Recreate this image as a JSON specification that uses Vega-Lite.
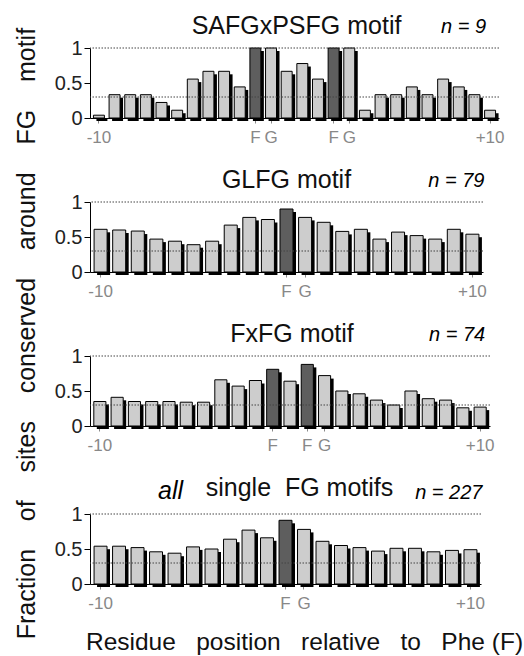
{
  "$schema": "https://vega.github.io/schema/vega-lite/v6.json",
  "background": "white",
  "padding": {"left": 15, "top": 13, "right": 2, "bottom": 2},
  "config": {
    "font": "Liberation Sans",
    "view": {"stroke": null},
    "title": {"fontSize": 25, "fontWeight": "normal", "color": "#111", "frame": "group", "dy": 26},
    "axisY": {"values": [0, 0.1, 0.2, 0.3, 0.4, 0.5, 0.6, 0.7, 0.8, 0.9, 1], "labelExpr": "datum.value == 0 ? '0' : datum.value == 0.5 ? '0.5' : datum.value == 1 ? '1' : ''", "labelOverlap": false, "labelFontSize": 20, "labelColor": "#222", "tickColor": "black", "domainColor": "black", "grid": false, "title": null, "labelPadding": 2,
      "tickSize": {"condition": {"test": "datum.value == 0 || datum.value == 0.5 || datum.value == 1", "value": 6}, "value": 3}},
    "axisX": {"labelAngle": 0, "labelColor": "#888", "labelFontSize": 17, "tickColor": "#888", "tickSize": 5, "domainColor": "black", "labelPadding": 6, "title": null}
  },
  "title": {
    "text": "Fraction\u00a0\u00a0\u00a0\u00a0of\u00a0\u00a0\u00a0\u00a0sites\u00a0\u00a0\u00a0\u00a0conserved\u00a0\u00a0\u00a0\u00a0around\u00a0\u00a0\u00a0\u00a0FG\u00a0\u00a0\u00a0\u00a0motif",
    "orient": "left",
    "anchor": "middle",
    "frame": "bounds",
    "fontSize": 25,
    "fontWeight": "normal",
    "dy": 0,
    "offset": 14
  },
  "datasets": {
    "bars": [
      {"panel": "P1", "pos": -10, "v": 0.04, "k": "o"},
      {"panel": "P1", "pos": -9, "v": 0.333, "k": "o"},
      {"panel": "P1", "pos": -8, "v": 0.333, "k": "o"},
      {"panel": "P1", "pos": -7, "v": 0.333, "k": "o"},
      {"panel": "P1", "pos": -6, "v": 0.222, "k": "o"},
      {"panel": "P1", "pos": -5, "v": 0.111, "k": "o"},
      {"panel": "P1", "pos": -4, "v": 0.556, "k": "o"},
      {"panel": "P1", "pos": -3, "v": 0.667, "k": "o"},
      {"panel": "P1", "pos": -2, "v": 0.667, "k": "o"},
      {"panel": "P1", "pos": -1, "v": 0.444, "k": "o"},
      {"panel": "P1", "pos": 0, "v": 1, "k": "F"},
      {"panel": "P1", "pos": 1, "v": 1, "k": "o"},
      {"panel": "P1", "pos": 2, "v": 0.667, "k": "o"},
      {"panel": "P1", "pos": 3, "v": 0.778, "k": "o"},
      {"panel": "P1", "pos": 4, "v": 0.556, "k": "o"},
      {"panel": "P1", "pos": 5, "v": 1, "k": "F"},
      {"panel": "P1", "pos": 6, "v": 1, "k": "o"},
      {"panel": "P1", "pos": 7, "v": 0.111, "k": "o"},
      {"panel": "P1", "pos": 8, "v": 0.333, "k": "o"},
      {"panel": "P1", "pos": 9, "v": 0.333, "k": "o"},
      {"panel": "P1", "pos": 10, "v": 0.444, "k": "o"},
      {"panel": "P1", "pos": 11, "v": 0.333, "k": "o"},
      {"panel": "P1", "pos": 12, "v": 0.556, "k": "o"},
      {"panel": "P1", "pos": 13, "v": 0.444, "k": "o"},
      {"panel": "P1", "pos": 14, "v": 0.333, "k": "o"},
      {"panel": "P1", "pos": 15, "v": 0.111, "k": "o"},

      {"panel": "P2", "pos": -10, "v": 0.61, "k": "o"},
      {"panel": "P2", "pos": -9, "v": 0.60, "k": "o"},
      {"panel": "P2", "pos": -8, "v": 0.585, "k": "o"},
      {"panel": "P2", "pos": -7, "v": 0.47, "k": "o"},
      {"panel": "P2", "pos": -6, "v": 0.44, "k": "o"},
      {"panel": "P2", "pos": -5, "v": 0.39, "k": "o"},
      {"panel": "P2", "pos": -4, "v": 0.44, "k": "o"},
      {"panel": "P2", "pos": -3, "v": 0.67, "k": "o"},
      {"panel": "P2", "pos": -2, "v": 0.78, "k": "o"},
      {"panel": "P2", "pos": -1, "v": 0.75, "k": "o"},
      {"panel": "P2", "pos": 0, "v": 0.90, "k": "F"},
      {"panel": "P2", "pos": 1, "v": 0.78, "k": "o"},
      {"panel": "P2", "pos": 2, "v": 0.71, "k": "o"},
      {"panel": "P2", "pos": 3, "v": 0.58, "k": "o"},
      {"panel": "P2", "pos": 4, "v": 0.61, "k": "o"},
      {"panel": "P2", "pos": 5, "v": 0.47, "k": "o"},
      {"panel": "P2", "pos": 6, "v": 0.57, "k": "o"},
      {"panel": "P2", "pos": 7, "v": 0.52, "k": "o"},
      {"panel": "P2", "pos": 8, "v": 0.47, "k": "o"},
      {"panel": "P2", "pos": 9, "v": 0.61, "k": "o"},
      {"panel": "P2", "pos": 10, "v": 0.54, "k": "o"},

      {"panel": "P3", "pos": -10, "v": 0.35, "k": "o"},
      {"panel": "P3", "pos": -9, "v": 0.41, "k": "o"},
      {"panel": "P3", "pos": -8, "v": 0.35, "k": "o"},
      {"panel": "P3", "pos": -7, "v": 0.35, "k": "o"},
      {"panel": "P3", "pos": -6, "v": 0.35, "k": "o"},
      {"panel": "P3", "pos": -5, "v": 0.34, "k": "o"},
      {"panel": "P3", "pos": -4, "v": 0.34, "k": "o"},
      {"panel": "P3", "pos": -3, "v": 0.66, "k": "o"},
      {"panel": "P3", "pos": -2, "v": 0.57, "k": "o"},
      {"panel": "P3", "pos": -1, "v": 0.65, "k": "o"},
      {"panel": "P3", "pos": 0, "v": 0.81, "k": "F"},
      {"panel": "P3", "pos": 1, "v": 0.64, "k": "o"},
      {"panel": "P3", "pos": 2, "v": 0.88, "k": "F"},
      {"panel": "P3", "pos": 3, "v": 0.72, "k": "o"},
      {"panel": "P3", "pos": 4, "v": 0.50, "k": "o"},
      {"panel": "P3", "pos": 5, "v": 0.46, "k": "o"},
      {"panel": "P3", "pos": 6, "v": 0.37, "k": "o"},
      {"panel": "P3", "pos": 7, "v": 0.30, "k": "o"},
      {"panel": "P3", "pos": 8, "v": 0.50, "k": "o"},
      {"panel": "P3", "pos": 9, "v": 0.39, "k": "o"},
      {"panel": "P3", "pos": 10, "v": 0.37, "k": "o"},
      {"panel": "P3", "pos": 11, "v": 0.26, "k": "o"},
      {"panel": "P3", "pos": 12, "v": 0.27, "k": "o"},

      {"panel": "P4", "pos": -10, "v": 0.54, "k": "o"},
      {"panel": "P4", "pos": -9, "v": 0.54, "k": "o"},
      {"panel": "P4", "pos": -8, "v": 0.52, "k": "o"},
      {"panel": "P4", "pos": -7, "v": 0.46, "k": "o"},
      {"panel": "P4", "pos": -6, "v": 0.44, "k": "o"},
      {"panel": "P4", "pos": -5, "v": 0.53, "k": "o"},
      {"panel": "P4", "pos": -4, "v": 0.50, "k": "o"},
      {"panel": "P4", "pos": -3, "v": 0.64, "k": "o"},
      {"panel": "P4", "pos": -2, "v": 0.77, "k": "o"},
      {"panel": "P4", "pos": -1, "v": 0.66, "k": "o"},
      {"panel": "P4", "pos": 0, "v": 0.91, "k": "F"},
      {"panel": "P4", "pos": 1, "v": 0.78, "k": "o"},
      {"panel": "P4", "pos": 2, "v": 0.61, "k": "o"},
      {"panel": "P4", "pos": 3, "v": 0.55, "k": "o"},
      {"panel": "P4", "pos": 4, "v": 0.52, "k": "o"},
      {"panel": "P4", "pos": 5, "v": 0.47, "k": "o"},
      {"panel": "P4", "pos": 6, "v": 0.51, "k": "o"},
      {"panel": "P4", "pos": 7, "v": 0.51, "k": "o"},
      {"panel": "P4", "pos": 8, "v": 0.46, "k": "o"},
      {"panel": "P4", "pos": 9, "v": 0.48, "k": "o"},
      {"panel": "P4", "pos": 10, "v": 0.49, "k": "o"}
    ],
    "labels": [
      {"panel": "P1", "pos": 15, "txt": "n = 9"},
      {"panel": "P2", "pos": 10, "txt": "n = 79"},
      {"panel": "P3", "pos": 12, "txt": "n = 74"},
      {"panel": "P4", "pos": 10, "txt": "n = 227"},
      {"panel": "P4all", "pos": -6, "txt": "all"}
    ]
  },
  "spacing": 22,
  "vconcat": [
    {
      "width": 409, "height": 70,
      "title": {"text": "SAFGxPSFG motif", "dx": 2},
      "encoding": {
        "x": {"field": "pos", "type": "ordinal",
          "scale": {"paddingInner": 0.3, "paddingOuter": 0.22},
          "axis": {"values": [-10, 0, 1, 5, 6, 15], "labelExpr": "datum.value == -10 ? '-10' : datum.value == 15 ? '+10' : (datum.value == 0 || datum.value == 5) ? 'F' : 'G'"}}
      },
      "layer": [
        {"data": {"name": "bars"}, "transform": [{"filter": "datum.panel == 'P1'"}],
          "mark": {"type": "bar", "color": "black", "xOffset": 3, "yOffset": 3},
          "encoding": {"y": {"field": "v", "type": "quantitative", "scale": {"domain": [0, 1], "nice": false}}}},
        {"data": {"name": "bars"}, "transform": [{"filter": "datum.panel == 'P1'"}],
          "mark": {"type": "bar", "stroke": "black", "strokeWidth": 1},
          "encoding": {"y": {"field": "v", "type": "quantitative", "scale": {"domain": [0, 1], "nice": false}},
            "color": {"field": "k", "type": "nominal", "scale": {"domain": ["F", "o"], "range": ["#5e5e5e", "#cdcdcd"]}, "legend": null}}},
        {"data": {"name": "labels"}, "transform": [{"filter": "datum.panel == 'P1'"}],
          "mark": {"type": "text", "align": "right", "baseline": "alphabetic", "fontSize": 20, "fontStyle": "italic", "dx": -4},
          "encoding": {"y": {"datum": 1.22, "type": "quantitative"}, "text": {"field": "txt"}}},
        {"data": {"name": "labels"}, "transform": [{"filter": "datum.panel == 'P1'"}], "mark": {"type": "rule", "color": "#444", "strokeDash": [1.5, 1.5], "strokeWidth": 1},
          "encoding": {"x": null, "y": {"datum": 1, "type": "quantitative"}}},
        {"data": {"name": "labels"}, "transform": [{"filter": "datum.panel == 'P1'"}], "mark": {"type": "rule", "color": "#444", "strokeDash": [1.5, 1.5], "strokeWidth": 1},
          "encoding": {"x": null, "y": {"datum": 0.3, "type": "quantitative"}}}
      ]
    },
    {
      "width": 393, "height": 70,
      "title": {"text": "GLFG motif", "dx": 0},
      "encoding": {
        "x": {"field": "pos", "type": "ordinal",
          "scale": {"paddingInner": 0.3, "paddingOuter": 0.22},
          "axis": {"values": [-10, 0, 1, 10], "labelExpr": "datum.value == -10 ? '-10' : datum.value == 10 ? '+10' : datum.value == 0 ? 'F' : 'G'"}}
      },
      "layer": [
        {"data": {"name": "bars"}, "transform": [{"filter": "datum.panel == 'P2'"}],
          "mark": {"type": "bar", "color": "black", "xOffset": 3, "yOffset": 3},
          "encoding": {"y": {"field": "v", "type": "quantitative", "scale": {"domain": [0, 1], "nice": false}}}},
        {"data": {"name": "bars"}, "transform": [{"filter": "datum.panel == 'P2'"}],
          "mark": {"type": "bar", "stroke": "black", "strokeWidth": 1},
          "encoding": {"y": {"field": "v", "type": "quantitative", "scale": {"domain": [0, 1], "nice": false}},
            "color": {"field": "k", "type": "nominal", "scale": {"domain": ["F", "o"], "range": ["#5e5e5e", "#cdcdcd"]}, "legend": null}}},
        {"data": {"name": "labels"}, "transform": [{"filter": "datum.panel == 'P2'"}],
          "mark": {"type": "text", "align": "right", "baseline": "alphabetic", "fontSize": 20, "fontStyle": "italic", "dx": 12},
          "encoding": {"y": {"datum": 1.22, "type": "quantitative"}, "text": {"field": "txt"}}},
        {"data": {"name": "labels"}, "transform": [{"filter": "datum.panel == 'P2'"}], "mark": {"type": "rule", "color": "#444", "strokeDash": [1.5, 1.5], "strokeWidth": 1},
          "encoding": {"x": null, "y": {"datum": 1, "type": "quantitative"}}},
        {"data": {"name": "labels"}, "transform": [{"filter": "datum.panel == 'P2'"}], "mark": {"type": "rule", "color": "#444", "strokeDash": [1.5, 1.5], "strokeWidth": 1},
          "encoding": {"x": null, "y": {"datum": 0.3, "type": "quantitative"}}}
      ]
    },
    {
      "width": 400, "height": 70,
      "title": {"text": "FxFG motif", "dx": 2},
      "encoding": {
        "x": {"field": "pos", "type": "ordinal",
          "scale": {"paddingInner": 0.3, "paddingOuter": 0.22},
          "axis": {"values": [-10, 0, 2, 3, 12], "labelExpr": "datum.value == -10 ? '-10' : datum.value == 12 ? '+10' : datum.value == 3 ? 'G' : 'F'"}}
      },
      "layer": [
        {"data": {"name": "bars"}, "transform": [{"filter": "datum.panel == 'P3'"}],
          "mark": {"type": "bar", "color": "black", "xOffset": 3, "yOffset": 3},
          "encoding": {"y": {"field": "v", "type": "quantitative", "scale": {"domain": [0, 1], "nice": false}}}},
        {"data": {"name": "bars"}, "transform": [{"filter": "datum.panel == 'P3'"}],
          "mark": {"type": "bar", "stroke": "black", "strokeWidth": 1},
          "encoding": {"y": {"field": "v", "type": "quantitative", "scale": {"domain": [0, 1], "nice": false}},
            "color": {"field": "k", "type": "nominal", "scale": {"domain": ["F", "o"], "range": ["#5e5e5e", "#cdcdcd"]}, "legend": null}}},
        {"data": {"name": "labels"}, "transform": [{"filter": "datum.panel == 'P3'"}],
          "mark": {"type": "text", "align": "right", "baseline": "alphabetic", "fontSize": 20, "fontStyle": "italic", "dx": 5},
          "encoding": {"y": {"datum": 1.22, "type": "quantitative"}, "text": {"field": "txt"}}},
        {"data": {"name": "labels"}, "transform": [{"filter": "datum.panel == 'P3'"}], "mark": {"type": "rule", "color": "#444", "strokeDash": [1.5, 1.5], "strokeWidth": 1},
          "encoding": {"x": null, "y": {"datum": 1, "type": "quantitative"}}},
        {"data": {"name": "labels"}, "transform": [{"filter": "datum.panel == 'P3'"}], "mark": {"type": "rule", "color": "#444", "strokeDash": [1.5, 1.5], "strokeWidth": 1},
          "encoding": {"x": null, "y": {"datum": 0.3, "type": "quantitative"}}}
      ]
    },
    {
      "width": 391, "height": 70,
      "title": {"text": "single\u00a0\u00a0FG motifs", "dx": 14},
      "encoding": {
        "x": {"field": "pos", "type": "ordinal",
          "scale": {"paddingInner": 0.3, "paddingOuter": 0.22},
          "axis": {"values": [-10, 0, 1, 10], "labelExpr": "datum.value == -10 ? '-10' : datum.value == 10 ? '+10' : datum.value == 0 ? 'F' : 'G'",
            "title": "Residue\u00a0\u00a0\u00a0position\u00a0\u00a0\u00a0relative\u00a0\u00a0\u00a0to\u00a0\u00a0\u00a0Phe (F)", "titleFontSize": 24.5, "titleFontWeight": "normal", "titleColor": "#111", "titlePadding": 19, "titleX": 214}}
      },
      "layer": [
        {"data": {"name": "bars"}, "transform": [{"filter": "datum.panel == 'P4'"}],
          "mark": {"type": "bar", "color": "black", "xOffset": 3, "yOffset": 3},
          "encoding": {"y": {"field": "v", "type": "quantitative", "scale": {"domain": [0, 1], "nice": false}}}},
        {"data": {"name": "bars"}, "transform": [{"filter": "datum.panel == 'P4'"}],
          "mark": {"type": "bar", "stroke": "black", "strokeWidth": 1},
          "encoding": {"y": {"field": "v", "type": "quantitative", "scale": {"domain": [0, 1], "nice": false}},
            "color": {"field": "k", "type": "nominal", "scale": {"domain": ["F", "o"], "range": ["#5e5e5e", "#cdcdcd"]}, "legend": null}}},
        {"data": {"name": "labels"}, "transform": [{"filter": "datum.panel == 'P4'"}],
          "mark": {"type": "text", "align": "right", "baseline": "alphabetic", "fontSize": 20, "fontStyle": "italic", "dx": 12},
          "encoding": {"y": {"datum": 1.22, "type": "quantitative"}, "text": {"field": "txt"}}},
        {"data": {"name": "labels"}, "transform": [{"filter": "datum.panel == 'P4all'"}],
          "mark": {"type": "text", "align": "center", "baseline": "alphabetic", "fontSize": 25, "fontStyle": "italic", "dx": -4},
          "encoding": {"y": {"datum": 1.22, "type": "quantitative"}, "text": {"field": "txt"}}},
        {"data": {"name": "labels"}, "transform": [{"filter": "datum.panel == 'P4'"}], "mark": {"type": "rule", "color": "#444", "strokeDash": [1.5, 1.5], "strokeWidth": 1},
          "encoding": {"x": null, "y": {"datum": 1, "type": "quantitative"}}},
        {"data": {"name": "labels"}, "transform": [{"filter": "datum.panel == 'P4'"}], "mark": {"type": "rule", "color": "#444", "strokeDash": [1.5, 1.5], "strokeWidth": 1},
          "encoding": {"x": null, "y": {"datum": 0.3, "type": "quantitative"}}}
      ]
    }
  ]
}
